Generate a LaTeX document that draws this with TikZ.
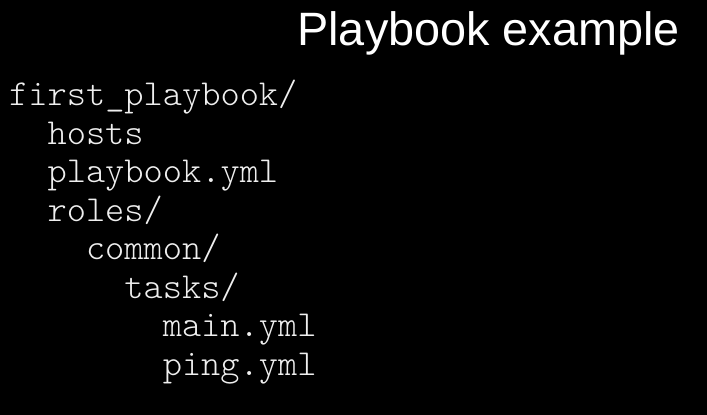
\documentclass[tikz,border=0pt]{standalone}
\usepackage{fontspec}
\setmainfont{Liberation Sans}
\newfontfamily\codefont{Latin Modern Mono Light}
\definecolor{codegray}{HTML}{EFEFEF}
\begin{document}
\begin{tikzpicture}[x=1pt,y=-1pt,
  title/.style={anchor=base east,inner sep=0pt,text=white,font=\fontsize{46.8}{46.8}\selectfont},
  entry/.style={anchor=base west,inner sep=0pt,text=codegray,font=\codefont\fontsize{36.6}{36.6}\selectfont}]
  % black slide background
  \fill[black] (0,0) rectangle (707,415);
  \useasboundingbox (0,0) rectangle (707,415);
  \node[title] (head) at (680,45) {Playbook example};
  % directory tree, two characters of indent per level
  \node[entry] (root)   at (9,105.5)  {first\_playbook/};
  \node[entry] (hosts)  at (47.4,144)   {hosts};
  \node[entry] (pb)     at (47.4,182.5) {playbook.yml};
  \node[entry] (roles)  at (47.4,221)   {roles/};
  \node[entry] (common) at (85.8,259.5) {common/};
  \node[entry] (tasks)  at (124.2,298)  {tasks/};
  \node[entry] (main)   at (162.6,336.5){main.yml};
  \node[entry] (ping)   at (162.6,375)  {ping.yml};
\end{tikzpicture}
\end{document}
